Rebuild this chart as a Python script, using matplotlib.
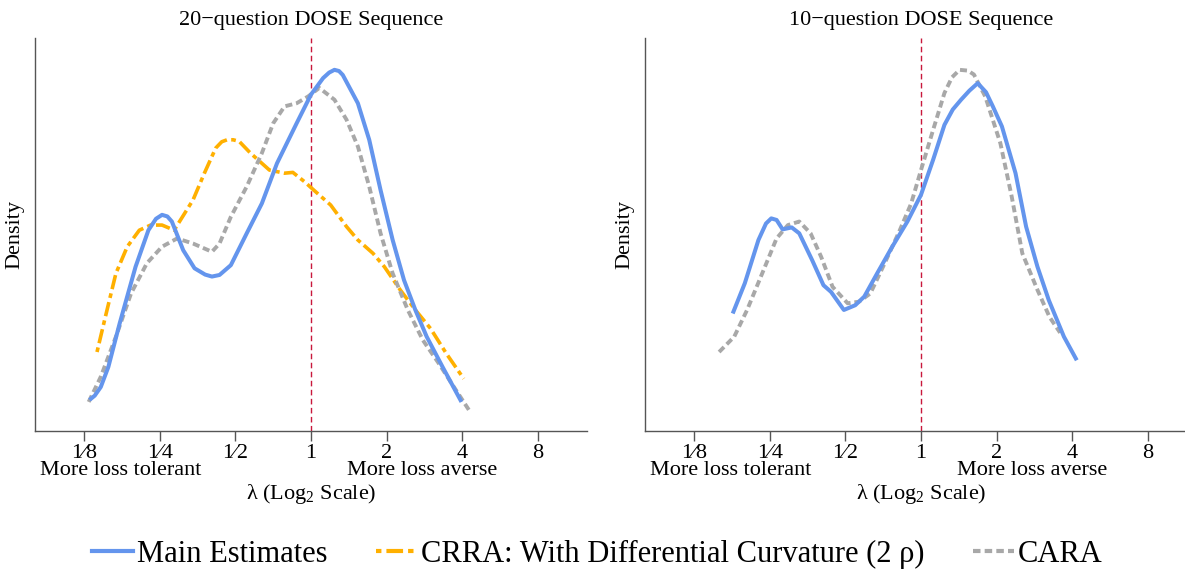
import matplotlib
matplotlib.use("Agg")
import matplotlib.pyplot as plt
import matplotlib.transforms as mtransforms
from matplotlib.lines import Line2D

plt.rcParams["font.family"] = ["Liberation Serif", "DejaVu Serif"]
plt.rcParams["mathtext.fontset"] = "custom"
plt.rcParams["mathtext.rm"] = "Liberation Serif"
plt.rcParams["lines.dash_joinstyle"] = "round"
plt.rcParams["lines.solid_joinstyle"] = "round"

# x values are log2(lambda); y values are density (arbitrary units)
# ---- 20-question DOSE sequence ----
main20_x = [-2.93, -2.86, -2.78, -2.68, -2.53, -2.32, -2.15, -2.05, -1.97, -1.90, -1.84,
            -1.69, -1.54, -1.40, -1.31, -1.21, -1.06, -0.85, -0.65, -0.45, -0.19, 0.00,
            0.16, 0.24, 0.31, 0.37, 0.42, 0.62, 0.77, 0.92, 1.08, 1.23, 1.38, 1.53, 1.74,
            1.99]
main20_y = [0.079, 0.090, 0.112, 0.163, 0.274, 0.418, 0.511, 0.540, 0.550, 0.546, 0.533,
            0.460, 0.414, 0.398, 0.393, 0.397, 0.422, 0.503, 0.579, 0.681, 0.783, 0.856,
            0.898, 0.912, 0.919, 0.916, 0.906, 0.834, 0.741, 0.613, 0.486, 0.384, 0.308,
            0.240, 0.163, 0.074]

crra20_x = [-2.83, -2.73, -2.58, -2.43, -2.27, -2.12, -1.97, -1.81, -1.56, -1.41, -1.26,
            -1.18, -1.11, -1.03, -0.95, -0.80, -0.55, -0.35, -0.24, -0.09, 0.06, 0.26,
            0.47, 0.62, 0.82, 0.97, 1.18, 1.38, 1.58, 1.79, 2.02]
crra20_y = [0.201, 0.282, 0.401, 0.469, 0.511, 0.524, 0.524, 0.511, 0.588, 0.656, 0.720,
            0.736, 0.741, 0.741, 0.737, 0.707, 0.664, 0.656, 0.658, 0.635, 0.609, 0.575,
            0.520, 0.486, 0.452, 0.418, 0.359, 0.308, 0.261, 0.197, 0.133]

cara20_x = [-2.94, -2.78, -2.58, -2.38, -2.17, -1.97, -1.77, -1.56, -1.31, -1.21, -1.06,
            -0.85, -0.65, -0.50, -0.35, -0.19, -0.04, 0.11, 0.31, 0.47, 0.62, 0.77, 0.92,
            1.08, 1.28, 1.48, 1.69, 1.89, 2.09]
cara20_y = [0.074, 0.138, 0.240, 0.350, 0.427, 0.469, 0.490, 0.477, 0.456, 0.477, 0.545,
            0.622, 0.707, 0.783, 0.826, 0.834, 0.851, 0.873, 0.843, 0.792, 0.724, 0.622,
            0.503, 0.401, 0.308, 0.231, 0.172, 0.112, 0.053]

# ---- 10-question DOSE sequence ----
main10_x = [-2.49, -2.33, -2.15, -2.05, -1.98, -1.91, -1.83, -1.71, -1.61, -1.44, -1.29,
            -1.19, -1.02, -0.87, -0.75, -0.58, -0.38, -0.18, 0.00, 0.16, 0.31, 0.42, 0.53,
            0.64, 0.75, 0.86, 0.95, 1.07, 1.25, 1.39, 1.54, 1.69, 1.89, 2.06]
main10_y = [0.299, 0.376, 0.486, 0.528, 0.541, 0.537, 0.513, 0.518, 0.503, 0.435, 0.371,
            0.354, 0.308, 0.320, 0.342, 0.401, 0.469, 0.533, 0.601, 0.690, 0.779, 0.818,
            0.843, 0.866, 0.885, 0.862, 0.826, 0.775, 0.656, 0.520, 0.418, 0.333, 0.240,
            0.180]

cara10_x = [-2.67, -2.47, -2.30, -2.10, -1.91, -1.76, -1.61, -1.46, -1.32, -1.17, -0.97,
            -0.82, -0.67, -0.48, -0.28, -0.13, 0.00, 0.16, 0.31, 0.41, 0.51, 0.62, 0.70,
            0.85, 1.05, 1.20, 1.34, 1.54, 1.70, 1.84]
cara10_y = [0.201, 0.240, 0.308, 0.401, 0.490, 0.524, 0.533, 0.503, 0.443, 0.367, 0.325,
            0.329, 0.350, 0.427, 0.511, 0.579, 0.664, 0.766, 0.860, 0.900, 0.919, 0.917,
            0.907, 0.851, 0.732, 0.596, 0.452, 0.359, 0.290, 0.250]

tick_pos = [-3, -2, -1, 0, 1, 2, 3]
tick_labels = ["1\u20448", "1\u20444", "1\u20442", "1", "2", "4", "8"]
titles = ["20\u2212question DOSE Sequence", "10\u2212question DOSE Sequence"]

BLUE = "#6495ED"
ORANGE = "#FFB000"
GRAY = "#A8A8A8"
RED = "#C8183C"
SPINE = "#555555"

fig = plt.figure(figsize=(11.85, 5.73), dpi=100)
ax1 = fig.add_axes([35 / 1185, 1 - 431 / 573, 552 / 1185, 393 / 573])
ax2 = fig.add_axes([645 / 1185, 1 - 431 / 573, 552 / 1185, 393 / 573])

ax1.plot(main20_x, main20_y, color=BLUE, lw=2.9, solid_capstyle="butt", zorder=4)
ax1.plot(crra20_x, crra20_y, color=ORANGE, lw=2.6, dashes=(1.3, 1.2, 4.0, 1.2), zorder=3)
ax1.plot(cara20_x, cara20_y, color=GRAY, lw=2.8, dashes=(1.8, 1.0), zorder=3)

ax2.plot(main10_x, main10_y, color=BLUE, lw=2.9, solid_capstyle="butt", zorder=4)
ax2.plot(cara10_x, cara10_y, color=GRAY, lw=2.8, dashes=(1.8, 1.0), zorder=3)

for ax, title in zip([ax1, ax2], titles):
    ax.set_xlim(-3.65, 3.65)
    ax.set_ylim(0, 1)
    ax.axvline(0, color=RED, lw=1.0, dashes=(4, 2.5), zorder=2)
    ax.set_xticks(tick_pos)
    ax.set_xticklabels(tick_labels, fontsize=16)
    ax.set_yticks([])
    ax.tick_params(axis="x", length=7, width=1, color=SPINE, pad=2)
    for side in ["top", "right"]:
        ax.spines[side].set_visible(False)
    for side in ["left", "bottom"]:
        ax.spines[side].set_color(SPINE)
        ax.spines[side].set_linewidth(1.0)
    ax.set_ylabel("Density", fontsize=16, labelpad=8)
    ax.set_title(title, fontsize=16, pad=9)
    trans = mtransforms.blended_transform_factory(ax.transData, ax.transAxes)
    ax.text(-2.52, -0.10, "More loss tolerant", transform=trans,
            ha="center", va="center", fontsize=16)
    ax.text(1.47, -0.10, "More loss averse", transform=trans,
            ha="center", va="center", fontsize=16)
    ax.text(0, -0.16, "\u03bb (Log$_2$ Scale)", transform=trans,
            ha="center", va="center", fontsize=16)

handles = [
    Line2D([], [], color=BLUE, lw=3.0),
    Line2D([], [], color=ORANGE, lw=3.0, dashes=(1.3, 1.2, 4.0, 1.2)),
    Line2D([], [], color=GRAY, lw=3.0, dashes=(1.8, 1.0)),
]
labels = ["Main Estimates", "CRRA: With Differential Curvature (2 \u03c1)", "CARA"]
fig.legend(handles, labels, loc="center", bbox_to_anchor=(0.504, 0.033), ncol=3,
           frameon=False, fontsize=22, handlelength=1.35, handletextpad=0.12,
           columnspacing=1.6)

fig.savefig("out.png", dpi=100)
